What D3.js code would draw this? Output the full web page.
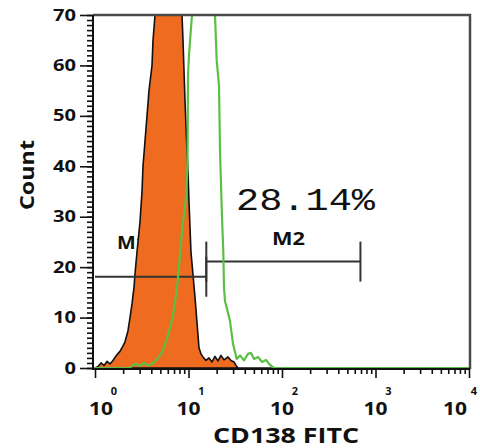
<!DOCTYPE html>
<html>
<head>
<meta charset="utf-8">
<script src="https://cdn.jsdelivr.net/npm/d3@7"></script>
<style>
  body { margin: 0; background: #fff; }
  text { font-family: "Open Sans", sans-serif; font-weight: 700; fill: #111; }
</style>
</head>
<body>
<svg id="chart" width="480" height="448"></svg>
<script>
// isotype control (filled) - fluorescence intensity / count
const controlX = [1, 1.077, 1.159, 1.248, 1.344, 1.447, 1.558, 1.677, 1.851, 1.993, 2.094, 2.254, 2.368, 2.487,
  2.613, 2.678, 2.813, 3.029, 3.182, 3.261, 3.426, 3.598, 3.78, 4.071, 4.172, 4.383, 6.035, 8.52, 8.733, 9.175,
  9.638, 9.879, 10.12, 10.63, 11.74, 12.33, 12.95, 13.61, 14.29, 15.39, 16.57, 17.84, 19.2, 20.68, 22.26, 23.97,
  26.46, 28.48, 30.67, 32.21, 33.84, 10000];
const controlCount = [0, 0.3, 1, 0.5, 1.3, 0.8, 1.5, 2.4, 3.3, 4.4, 5.2, 7.4, 10, 12.7,
  16, 18.7, 23, 29, 35, 40, 45, 50, 55, 60, 65, 72, 80, 72, 65, 53,
  43, 39, 33, 23, 14, 9, 4, 2.8, 2.2, 1.5, 2, 1.2, 2.3, 1.4, 2.5, 1.6,
  2.2, 1.5, 1.2, 0.5, 0, 0];

// CD138 stained (green outline)
const stainX = [1, 2.368, 2.487, 2.745, 3.029, 3.342, 3.689, 4.071, 4.492, 4.957, 5.337, 5.889, 6.34, 6.827,
  7.171, 7.534, 7.913, 8.314, 8.733, 9.404, 9.757, 9.879, 10.12, 10.5, 10.9, 14.65, 19.2, 20.03, 21.2, 21.73,
  22.82, 23.56, 23.97, 24.57, 27.79, 29.92, 32.77, 35.54, 39.23, 43.3, 46.62, 50.17, 55.39, 61.12, 67.44,
  74.41, 82.11, 10000];
const stainCount = [0, 0, 0.5, 0.8, 0.4, 1, 0.5, 0.8, 1.5, 2.5, 3.5, 5.8, 8, 10.5,
  13, 16, 20, 25, 29, 34, 40, 58, 62, 66, 72, 80, 72, 61, 56, 43,
  30, 23, 16, 13.3, 9.3, 4.8, 1.8, 2.5, 1.5, 2.8, 3, 1.8, 2.2, 1.2, 1.6,
  0.6, 0, 0];

const yTicks = [0, 10, 20, 30, 40, 50, 60, 70];
const xDecades = [1, 10, 100, 1000, 10000];
const xExponents = ['0', '1', '2', '3', '4'];

const markerNames = ['M1', 'M2'];
const markerStart = [1, 15.5];
const markerEnd = [15.5, 690];
const markerLevel = [18.1, 21.1];
const percentLabel = '28.14%';

const svg = d3.select('#chart');
const pLeft = 93, pRight = 470, pTop = 15, pBottom = 369;

const x = d3.scaleLog().domain([1, 10000]).range([95, 469]);
const y = d3.scaleLinear().domain([0, 70]).range([368, 15]).clamp(true);

svg.append('clipPath').attr('id', 'plotClip')
  .append('rect').attr('x', pLeft).attr('y', pTop).attr('width', pRight - pLeft).attr('height', pBottom - pTop);

// marker labels sit under the histograms
const markerLabelPos = [[117, 249, 30], [272, 245, 33]];
svg.selectAll('text.mlabel')
  .data(markerNames)
  .enter().append('text')
    .attr('class', 'mlabel')
    .attr('x', (d, i) => markerLabelPos[i][0])
    .attr('y', (d, i) => markerLabelPos[i][1])
    .attr('textLength', (d, i) => markerLabelPos[i][2])
    .attr('lengthAdjust', 'spacingAndGlyphs')
    .style('font-size', '18px')
    .text(d => d);

const plot = svg.append('g').attr('clip-path', 'url(#plotClip)');

const control = controlX.map((v, i) => [v, controlCount[i]]);
const stain = stainX.map((v, i) => [v, stainCount[i]]);

plot.append('path')
  .datum(control)
  .attr('d', d3.area().x(d => x(d[0])).y0(y(0)).y1(d => y(d[1])))
  .attr('fill', '#ee6b1f')
  .attr('stroke', '#111')
  .attr('stroke-width', 1.6)
  .attr('stroke-linejoin', 'round');

// marker bars (no end tick where a marker starts at the axis)
const markers = markerNames.map((n, i) => ({ name: n, a: markerStart[i], b: markerEnd[i], v: markerLevel[i] }));
const mg = plot.selectAll('g.marker').data(markers).enter().append('g').attr('class', 'marker')
  .attr('stroke', '#333').attr('stroke-width', 2);
mg.append('line')
  .attr('x1', d => x(d.a)).attr('x2', d => x(d.b))
  .attr('y1', d => y(d.v)).attr('y2', d => y(d.v));
mg.filter(d => d.a > x.domain()[0]).append('line')
  .attr('x1', d => x(d.a)).attr('x2', d => x(d.a))
  .attr('y1', d => y(d.v) - 20).attr('y2', d => y(d.v) + 20);
mg.append('line')
  .attr('x1', d => x(d.b)).attr('x2', d => x(d.b))
  .attr('y1', d => y(d.v) - 20).attr('y2', d => y(d.v) + 20);

plot.append('path')
  .datum(stain)
  .attr('d', d3.line().x(d => x(d[0])).y(d => y(d[1])))
  .attr('fill', 'none')
  .attr('stroke', '#5cbf45')
  .attr('stroke-width', 2.2)
  .attr('stroke-linejoin', 'round');

// frame
svg.append('path')
  .attr('d', `M${pLeft},${pTop}H${pRight}V${pBottom}`)
  .attr('fill', 'none').attr('stroke', '#4a4a4a').attr('stroke-width', 2.5);
svg.append('path')
  .attr('d', `M${pLeft},${pTop}V${pBottom}H${pRight}`)
  .attr('fill', 'none').attr('stroke', '#111').attr('stroke-width', 2);

// y axis: minor then major
const yMinor = svg.append('g').attr('transform', `translate(${pLeft},0)`)
  .call(d3.axisLeft(y).tickValues(d3.range(0, 71, 1)).tickSize(6).tickFormat(''));
const yMajor = svg.append('g').attr('transform', `translate(${pLeft},0)`)
  .call(d3.axisLeft(y).tickValues(yTicks).tickSize(13).tickPadding(4));
[yMinor, yMajor].forEach(g => {
  g.select('.domain').remove();
  g.selectAll('line').attr('stroke', '#111').attr('stroke-width', 1.6);
});
yMajor.selectAll('text')
  .attr('fill', '#111')
  .style('font-family', '"Open Sans", sans-serif')
  .style('font-weight', 700)
  .style('font-size', '16px')
  .attr('textLength', d => String(d).length * 11.5)
  .attr('lengthAdjust', 'spacingAndGlyphs');

// x axis: minor then major
const minorVals = [];
xDecades.slice(0, -1).forEach(dv => { for (let k = 2; k < 10; k++) minorVals.push(dv * k); });
const xMinor = svg.append('g').attr('transform', `translate(0,${pBottom})`)
  .call(d3.axisBottom(x).tickValues(minorVals).tickSize(5).tickFormat(''));
const xMajor = svg.append('g').attr('transform', `translate(0,${pBottom})`)
  .call(d3.axisBottom(x).tickValues(xDecades).tickSize(9).tickFormat(''));
[xMinor, xMajor].forEach(g => {
  g.select('.domain').remove();
  g.selectAll('line').attr('stroke', '#111').attr('stroke-width', 1.6);
});

const labelX = d => Math.min(455, Math.max(101, x(d)));
svg.selectAll('text.xbase').data(xDecades).enter().append('text')
  .attr('class', 'xbase')
  .attr('x', labelX).attr('y', 415)
  .attr('text-anchor', 'middle')
  .attr('textLength', 24).attr('lengthAdjust', 'spacingAndGlyphs')
  .style('font-size', '18px')
  .text('10');
svg.selectAll('text.xexp').data(xDecades).enter().append('text')
  .attr('class', 'xexp')
  .attr('x', (d, i) => labelX(d) + 13 + (i === 4 ? 6 : 0)).attr('y', 395)
  .attr('text-anchor', 'middle')
  .style('font-size', '11px')
  .text((d, i) => xExponents[i]);

// axis titles
svg.append('text')
  .attr('transform', 'translate(34,175) rotate(-90)')
  .attr('text-anchor', 'middle')
  .attr('textLength', 70).attr('lengthAdjust', 'spacingAndGlyphs')
  .style('font-size', '20px')
  .text('Count');
svg.append('text')
  .attr('x', 286).attr('y', 443)
  .attr('text-anchor', 'middle')
  .attr('textLength', 146).attr('lengthAdjust', 'spacingAndGlyphs')
  .style('font-size', '22px')
  .text('CD138 FITC');

svg.append('text')
  .attr('x', 236).attr('y', 210)
  .attr('textLength', 139).attr('lengthAdjust', 'spacingAndGlyphs')
  .style('font-family', '"Liberation Mono", "Courier New", monospace')
  .style('font-weight', 400)
  .style('font-size', '32px')
  .text(percentLabel);
</script>
</body>
</html>
